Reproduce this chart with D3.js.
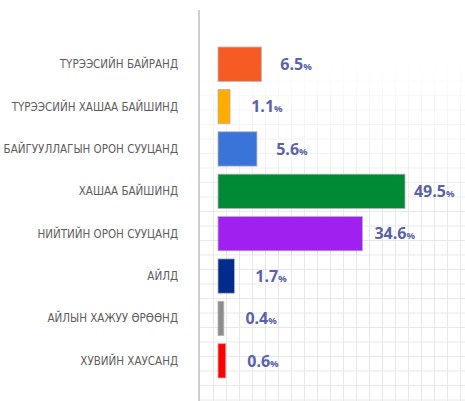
<!DOCTYPE html>
<html>
<head>
<meta charset="utf-8">
<script src="https://cdn.jsdelivr.net/npm/d3@7"></script>
<style>
  body { margin: 0; background: #fff; }
</style>
</head>
<body>
<div id="chart"></div>
<script>
// data
const categories = [
    "ТҮРЭЭСИЙН БАЙРАНД",
    "ТҮРЭЭСИЙН ХАШАА БАЙШИНД",
    "БАЙГУУЛЛАГЫН ОРОН СУУЦАНД",
    "ХАШАА БАЙШИНД",
    "НИЙТИЙН ОРОН СУУЦАНД",
    "АЙЛД",
    "АЙЛЫН ХАЖУУ ӨРӨӨНД",
    "ХУВИЙН ХАУСАНД"
]
const values = [6.5, 1.1, 5.6, 49.5, 34.6, 1.7, 0.4, 0.6]
const barColors = ["#f55b22", "#ffab00", "#3a74d8", "#008a36", "#a020f0", "#012b8c", "#8d8d8d", "#ff0000"]

const width = 465, height = 401
const x0 = 218

const svg = d3.select("#chart").append("svg")
    .attr("width", width)
    .attr("height", height)

// faint background grid, fading out toward the top
const defs = svg.append("defs")
const grad = defs.append("linearGradient")
    .attr("id", "fade").attr("x1", 0).attr("y1", 0).attr("x2", 0).attr("y2", 1)
grad.append("stop").attr("offset", "0.12").attr("stop-color", "#fff").attr("stop-opacity", 0)
grad.append("stop").attr("offset", "0.55").attr("stop-color", "#fff").attr("stop-opacity", 1)
defs.append("mask").attr("id", "gridMask")
    .append("rect").attr("x", 0).attr("y", 0).attr("width", width).attr("height", height)
    .attr("fill", "url(#fade)")

const gridStep = 13
const grid = svg.append("g").attr("mask", "url(#gridMask)")
    .attr("stroke", "#e8e8e8").attr("stroke-width", 1)
grid.selectAll("line.v")
    .data(d3.range(200 + gridStep, width, gridStep))
    .enter().append("line")
    .attr("x1", d => d + 0.5).attr("x2", d => d + 0.5)
    .attr("y1", 0).attr("y2", height)
grid.selectAll("line.h")
    .data(d3.range(8, height, gridStep + 1.5))
    .enter().append("line")
    .attr("x1", 200).attr("x2", width)
    .attr("y1", d => d + 0.5).attr("y2", d => d + 0.5)

// scales
const y = d3.scaleBand()
    .domain(categories)
    .range([43, 382])
    .paddingInner(0.19)
    .paddingOuter(0.095)

// the infographic does not draw bars linearly, a power scale fits it well
const x = d3.scalePow()
    .exponent(0.72)
    .domain([0, 49.5])
    .range([0, 187])

// vertical axis line
svg.append("line")
    .attr("x1", 199).attr("x2", 199)
    .attr("y1", 10).attr("y2", height)
    .attr("stroke", "#cfcfcf")
    .attr("stroke-width", 2)

// category labels
svg.append("g")
    .selectAll("text")
    .data(categories)
    .enter().append("text")
    .attr("x", 178)
    .attr("y", d => y(d) + y.bandwidth() / 2)
    .attr("dy", "0.35em")
    .attr("text-anchor", "end")
    .attr("font-family", "'Liberation Sans Narrow', 'DejaVu Sans Condensed', sans-serif")
    .attr("font-size", 11.5)
    .attr("fill", "#5e5e5e")
    .text(d => d)

// bars
svg.append("g")
    .selectAll("rect")
    .data(values)
    .enter().append("rect")
    .attr("x", x0)
    .attr("y", (d, i) => y(categories[i]))
    .attr("width", d => x(d))
    .attr("height", y.bandwidth())
    .attr("fill", (d, i) => barColors[i])
    .attr("stroke", "#b5b5b5")
    .attr("stroke-width", 0.8)

// value labels
const lbl = svg.append("g")
    .selectAll("text")
    .data(values)
    .enter().append("text")
    .attr("x", d => x0 + 22 + x(d) * 0.93)
    .attr("y", (d, i) => y(categories[i]) + y.bandwidth() / 2)
    .attr("dy", "0.36em")
    .attr("font-family", "'Open Sans', sans-serif")
    .attr("font-weight", "bold")
    .attr("font-size", 16)
    .attr("fill", "#5a62a8")
lbl.append("tspan").text(d => d.toFixed(1))
lbl.append("tspan").attr("font-size", 9.5).text("%")
</script>
</body>
</html>
